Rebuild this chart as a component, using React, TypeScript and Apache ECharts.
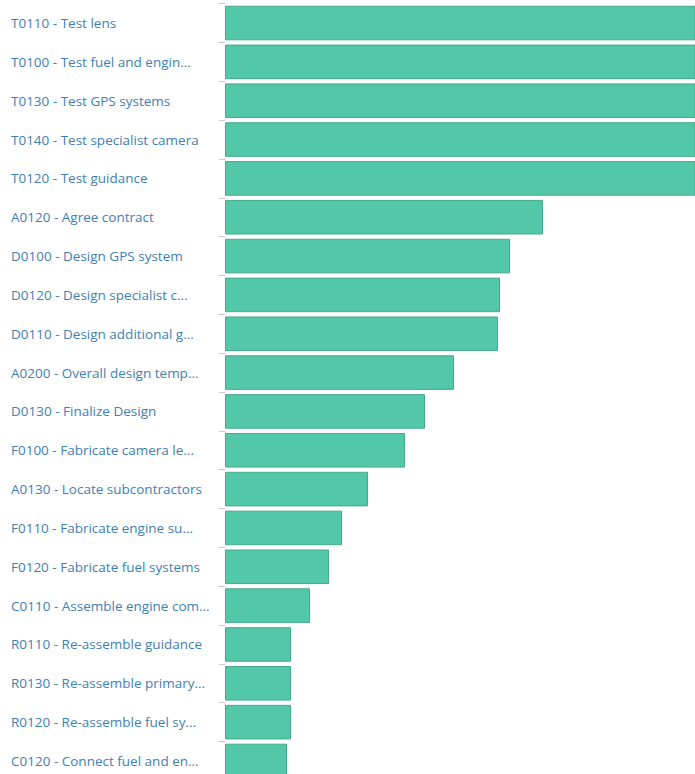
import React, { useEffect, useRef } from "react";
import * as echarts from "echarts";

const categories = [
  "T0110 - Test lens",
  "T0100 - Test fuel and engin...",
  "T0130 - Test GPS systems",
  "T0140 - Test specialist camera",
  "T0120 - Test guidance",
  "A0120 - Agree contract",
  "D0100 - Design GPS system",
  "D0120 - Design specialist c...",
  "D0110 - Design additional g...",
  "A0200 - Overall design temp...",
  "D0130 - Finalize Design",
  "F0100 - Fabricate camera le...",
  "A0130 - Locate subcontractors",
  "F0110 - Fabricate engine su...",
  "F0120 - Fabricate fuel systems",
  "C0110 - Assemble engine com...",
  "R0110 - Re-assemble guidance",
  "R0130 - Re-assemble primary...",
  "R0120 - Re-assemble fuel sy...",
  "C0120 - Connect fuel and en...",
];

const durations = [
  560, 550, 540, 530, 520, 318, 285, 275, 273, 229, 200, 180, 143, 117, 104, 85, 66, 66, 66, 62,
];

const axisMax = 470;

export default function App() {
  const ref = useRef<HTMLDivElement>(null);
  useEffect(() => {
    if (!ref.current) return;
    const chart = echarts.init(ref.current, null, { renderer: "svg" });
    chart.setOption({
      animation: false,
      grid: { left: 225, right: 0, top: 3.6, height: 776.8, containLabel: false },
      xAxis: { type: "value", min: 0, max: axisMax, show: false },
      yAxis: {
        type: "category",
        inverse: true,
        data: categories,
        axisLine: { show: false },
        axisTick: { show: true, length: 6, lineStyle: { color: "#c8c8c8", width: 1 } },
        axisLabel: {
          align: "left",
          margin: 214,
          color: "#3f80b3",
          fontSize: 13.5,
          fontFamily: "'Open Sans', sans-serif",
        },
      },
      series: [
        {
          type: "bar",
          data: durations,
          barCategoryGap: "11%",
          clip: true,
          itemStyle: { color: "#52c8a8", borderColor: "#45a98d", borderWidth: 1 },
        },
      ],
    });
    return () => chart.dispose();
  }, []);
  return (
    <div style={{ position: "fixed", top: 0, left: 0, width: 695, height: 774, overflow: "hidden", background: "#fff" }}>
      <div ref={ref} style={{ width: 695, height: 782 }} />
    </div>
  );
}
